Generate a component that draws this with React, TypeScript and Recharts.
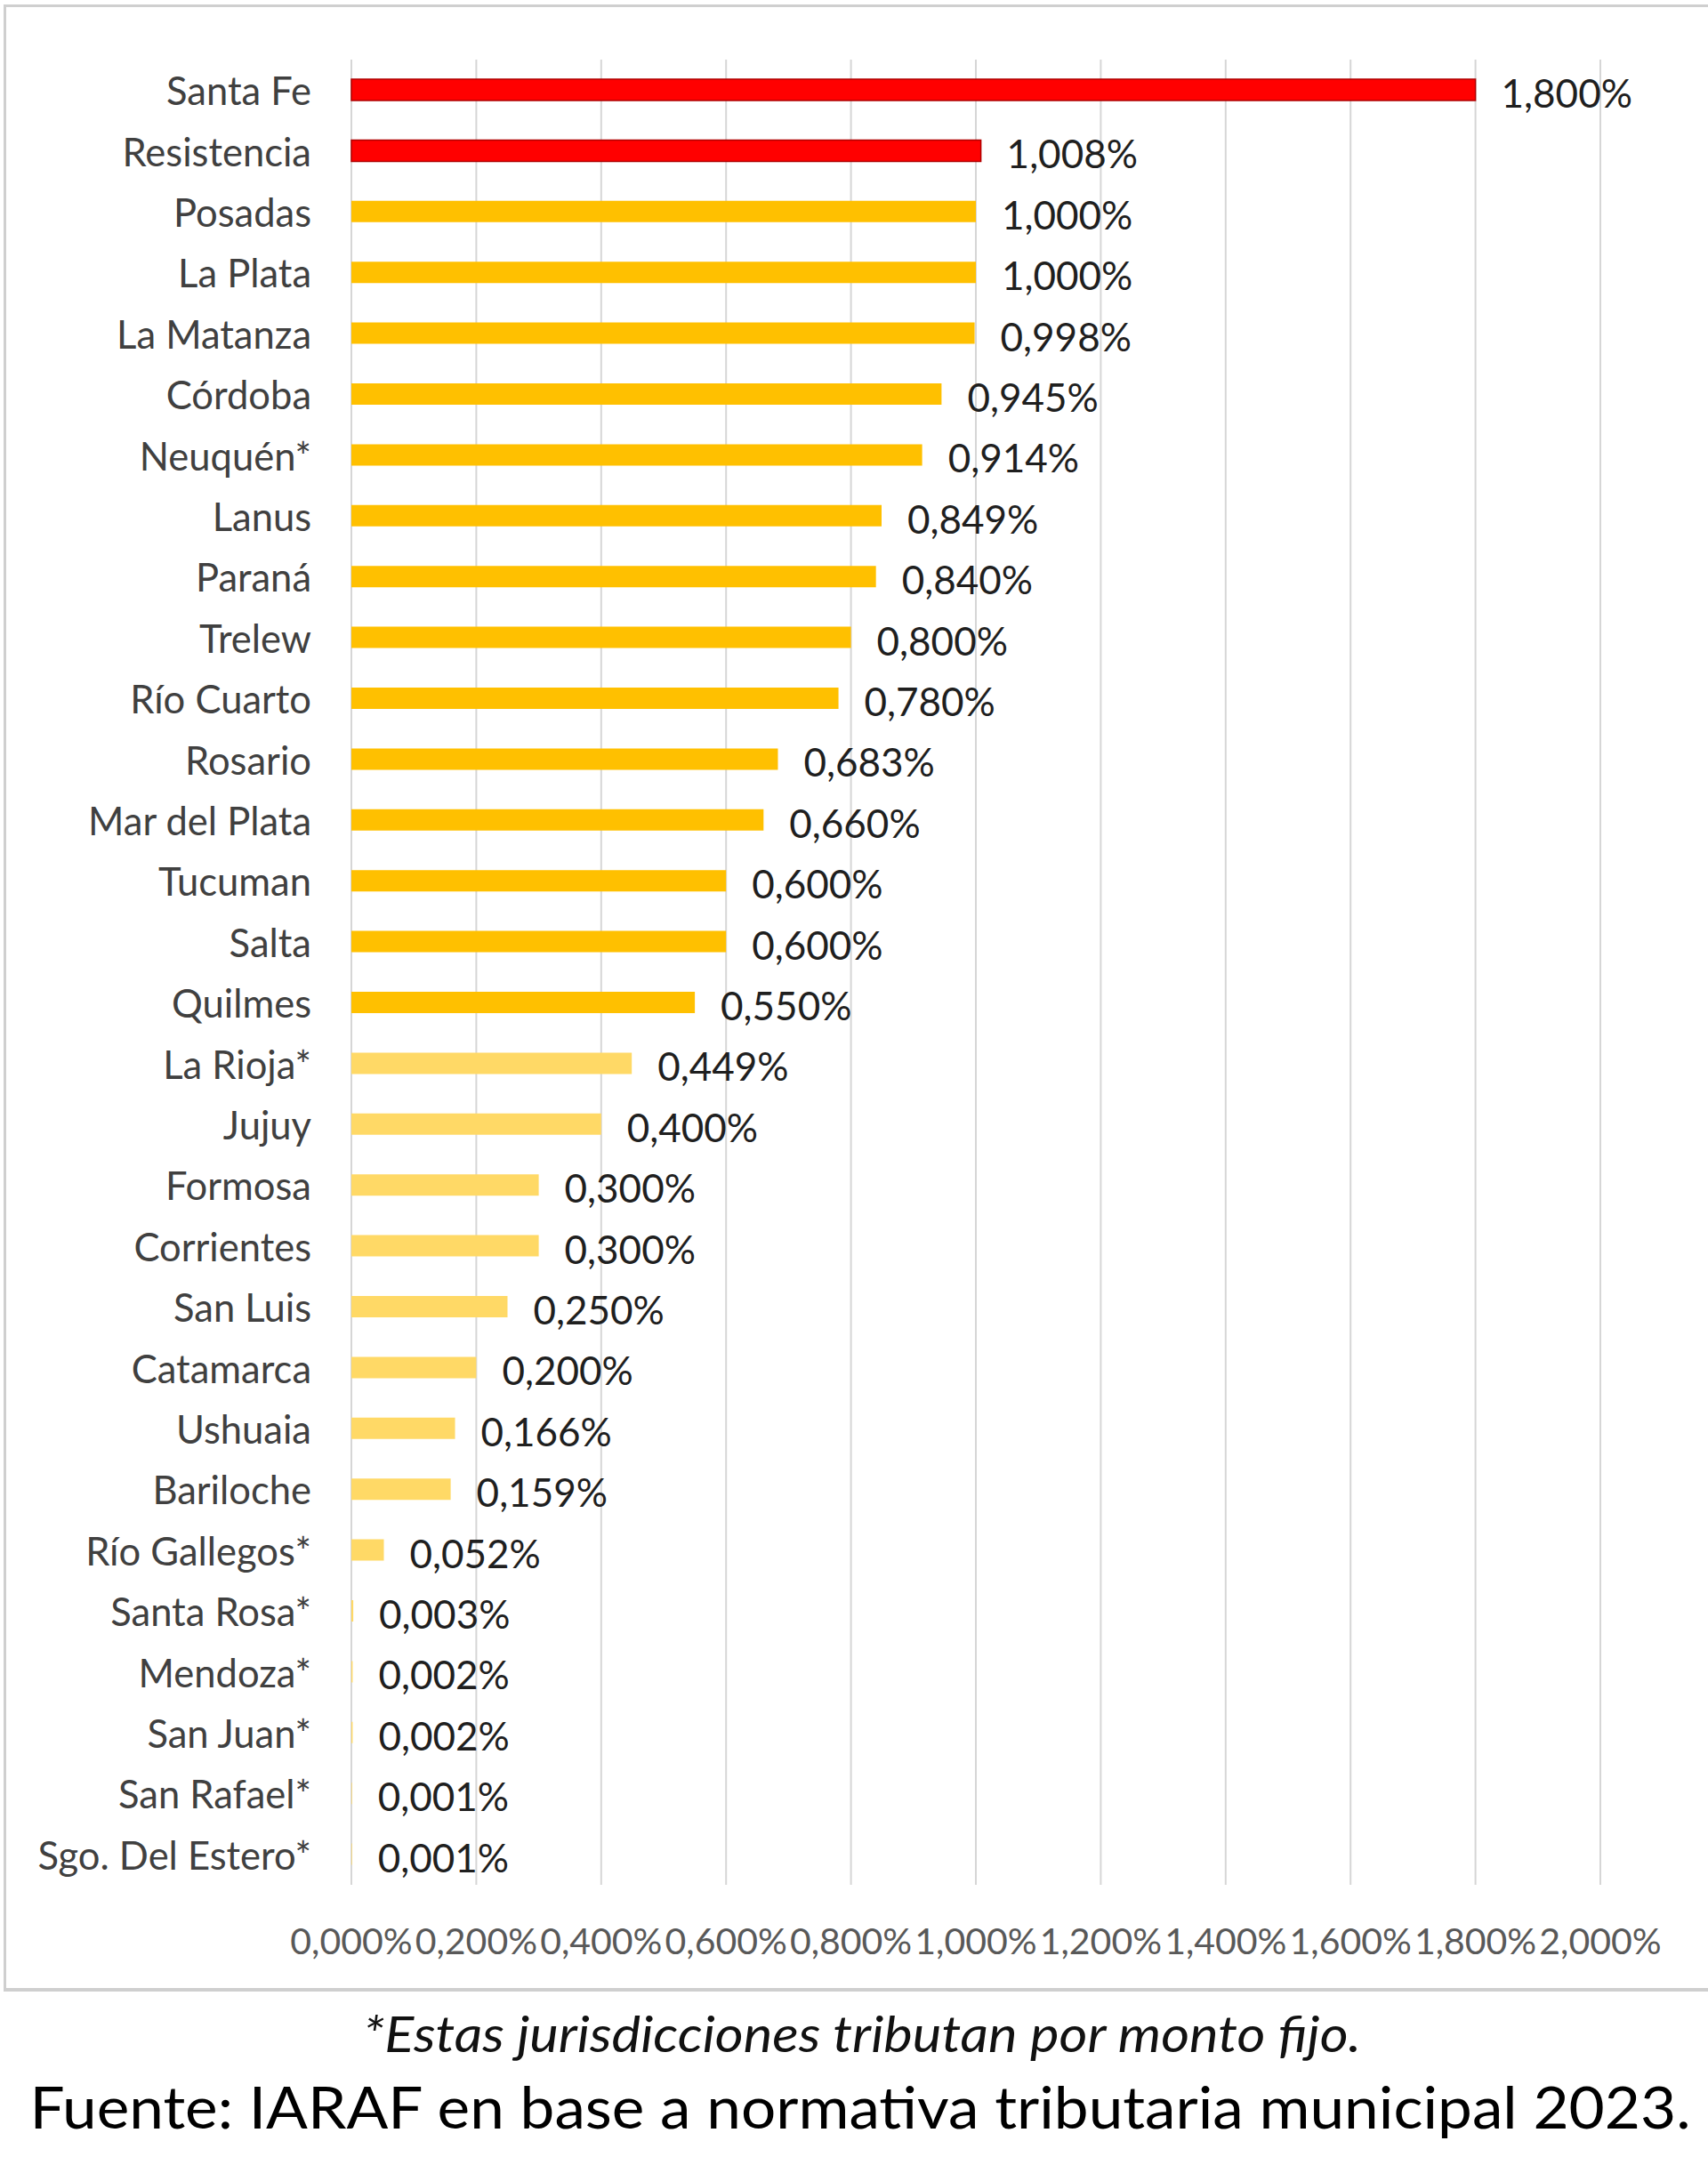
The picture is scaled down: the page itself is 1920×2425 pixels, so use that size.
import React from "react";
import { BarChart, Bar, XAxis, YAxis, CartesianGrid, Cell, LabelList } from "recharts";

const categories = [
  "Santa Fe", "Resistencia", "Posadas", "La Plata", "La Matanza", "Córdoba", "Neuquén*",
  "Lanus", "Paraná", "Trelew", "Río Cuarto", "Rosario", "Mar del Plata", "Tucuman",
  "Salta", "Quilmes", "La Rioja*", "Jujuy", "Formosa", "Corrientes", "San Luis",
  "Catamarca", "Ushuaia", "Bariloche", "Río Gallegos*", "Santa Rosa*", "Mendoza*",
  "San Juan*", "San Rafael*", "Sgo. Del Estero*",
];

const values = [
  1.8, 1.008, 1.0, 1.0, 0.998, 0.945, 0.914,
  0.849, 0.84, 0.8, 0.78, 0.683, 0.66, 0.6,
  0.6, 0.55, 0.449, 0.4, 0.3, 0.3, 0.25,
  0.2, 0.166, 0.159, 0.052, 0.003, 0.002,
  0.002, 0.001, 0.001,
];

// 0 = highest group (red), 1 = mid group (amber), 2 = low group (light amber)
const tiers = [
  0, 0, 1, 1, 1, 1, 1,
  1, 1, 1, 1, 1, 1, 1,
  1, 1, 2, 2, 2, 2, 2,
  2, 2, 2, 2, 2, 2,
  2, 2, 2,
];

const xTicks = [0, 0.2, 0.4, 0.6, 0.8, 1.0, 1.2, 1.4, 1.6, 1.8, 2.0];

const footnote = "*Estas jurisdicciones tributan por monto fijo.";
const source = "Fuente: IARAF en base a normativa tributaria municipal 2023.";

const palette = ["#FF0000", "#FFC000", "#FFD966"];
const strokes = ["#B00000", "none", "none"];

const data = categories.map((name, i) => ({ name, value: values[i], tier: tiers[i] }));

const FONT = "Lato, 'Open Sans', sans-serif";

const fmt = (v: number) => v.toFixed(3).replace(".", ",") + "%";

const XTick = (props: any) => {
  const { x, y, payload } = props;
  return (
    <text
      x={x}
      y={y + 62}
      textAnchor="middle"
      dominantBaseline="central"
      fontFamily={FONT}
      fontSize={41}
      fill="#595959"
    >
      {fmt(payload.value)}
    </text>
  );
};

const YTick = (props: any) => {
  const { x, y, payload } = props;
  return (
    <text
      x={x}
      y={y}
      textAnchor="end"
      dominantBaseline="central"
      fontFamily={FONT}
      fontSize={43.5}
      fill="#404040"
    >
      {payload.value}
    </text>
  );
};

const ValueLabel = (props: any) => {
  const { x, y, width, height, value } = props;
  return (
    <text
      x={x + width + 29}
      y={y + height / 2 + 3}
      textAnchor="start"
      dominantBaseline="central"
      fontFamily={FONT}
      fontSize={44}
      fill="#1f1f1f"
    >
      {fmt(Number(value))}
    </text>
  );
};

export default function App() {
  return (
    <div
      style={{
        position: "absolute",
        left: 0,
        top: 0,
        width: 1920,
        height: 2425,
        background: "#ffffff",
        overflow: "hidden",
      }}
    >
      <div
        style={{
          position: "absolute",
          left: 4,
          top: 5,
          width: 1930,
          height: 2234,
          borderTop: "3px solid #cfcfcf",
          borderLeft: "3px solid #cfcfcf",
          borderBottom: "4px solid #cfcfcf",
          boxSizing: "border-box",
        }}
      />
      <div style={{ position: "absolute", left: 0, top: 0 }}>
        <BarChart
          width={1920}
          height={2240}
          data={data}
          layout="vertical"
          margin={{ top: 67, right: 121, left: 0, bottom: 61 }}
          barCategoryGap={0}
        >
          <CartesianGrid vertical={true} horizontal={false} stroke="#d6d6d6" strokeWidth={2} />
          <XAxis
            type="number"
            domain={[0, 2]}
            ticks={xTicks}
            axisLine={false}
            tickLine={false}
            tickSize={0}
            tickMargin={0}
            height={60}
            interval={0}
            tick={<XTick />}
          />
          <YAxis
            type="category"
            dataKey="name"
            width={395}
            axisLine={false}
            tickLine={false}
            tickSize={0}
            tickMargin={45}
            interval={0}
            tick={<YTick />}
          />
          <Bar dataKey="value" barSize={24} isAnimationActive={false}>
            {data.map((d, i) => (
              <Cell
                key={i}
                fill={palette[d.tier]}
                stroke={strokes[d.tier]}
                strokeWidth={d.tier === 0 ? 1.5 : 0}
              />
            ))}
            <LabelList dataKey="value" content={<ValueLabel />} />
          </Bar>
        </BarChart>
      </div>
      <svg
        width={1920}
        height={185}
        style={{ position: "absolute", left: 0, top: 2240 }}
      >
        <text
          x={969}
          y={45}
          textAnchor="middle"
          dominantBaseline="central"
          fontFamily={FONT}
          fontStyle="italic"
          fontSize={56}
          fill="#111111"
          textLength={1122}
          lengthAdjust="spacingAndGlyphs"
        >
          {footnote}
        </text>
        <text
          x={967}
          y={127}
          textAnchor="middle"
          dominantBaseline="central"
          fontFamily={FONT}
          fontSize={66}
          fill="#000000"
          textLength={1867}
          lengthAdjust="spacingAndGlyphs"
        >
          {source}
        </text>
      </svg>
    </div>
  );
}
